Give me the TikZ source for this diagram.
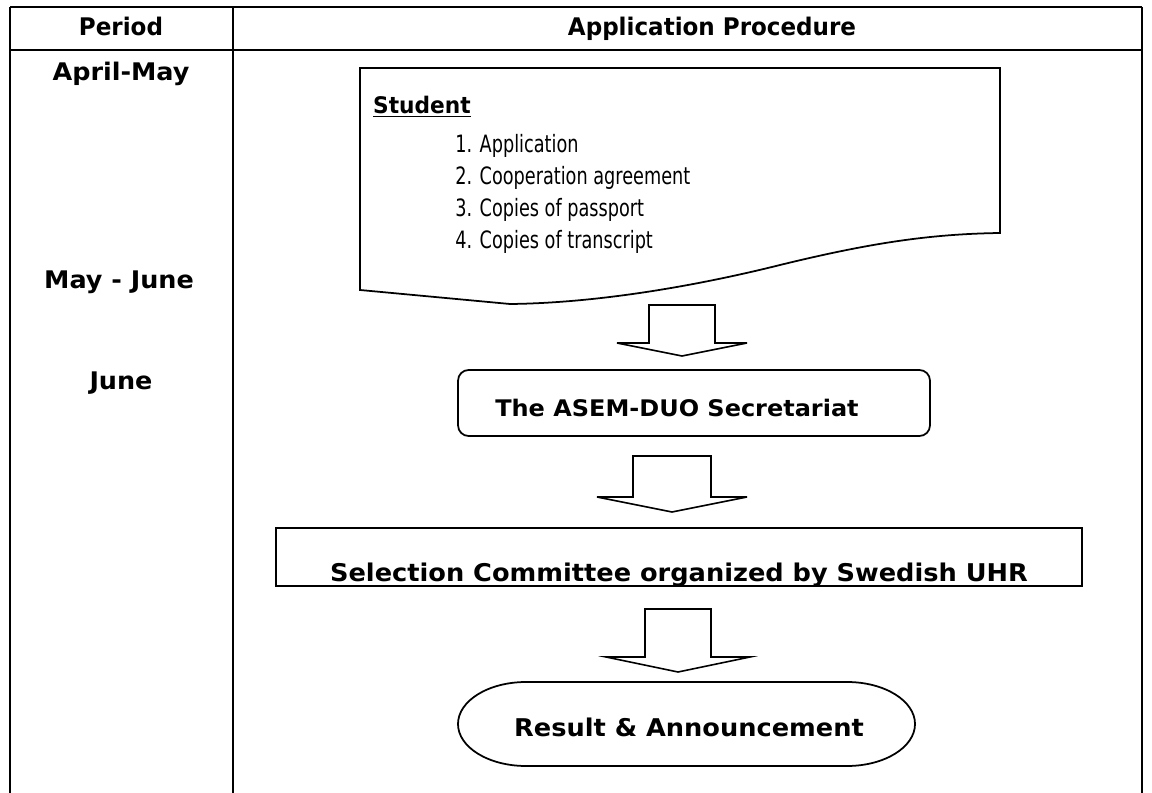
\documentclass[tikz,border=0pt]{standalone}
\usepackage{fontspec}
\setmainfont{DejaVu Sans}
\newfontfamily\headfont{DejaVu Sans}[FakeStretch=0.95]
\newfontfamily\listfont{DejaVu Sans}[FakeStretch=0.74]
\newfontfamily\widefont{DejaVu Sans}[FakeStretch=1.05]
\usetikzlibrary{positioning,calc}

\tikzset{
   tableline/.style={line width=1.3pt},
   procbox/.style={draw, line width=1pt},
   blockarrow/.style={draw, line width=0.9pt, line join=miter},
   headtext/.style={anchor=base, font=\headfont\fontsize{13.8pt}{16pt}\selectfont\bfseries},
   periodtext/.style={anchor=base, font=\widefont\fontsize{13.8pt}{16pt}\selectfont\bfseries},
   steptext/.style={anchor=base, font=\widefont\fontsize{13.9pt}{16pt}\selectfont\bfseries},
   listtext/.style={anchor=base west, inner sep=0pt, font=\listfont\fontsize{13.6pt}{15pt}\selectfont},
}

\begin{document}
\begin{tikzpicture}[x=0.02cm, y=-0.02cm]
   \useasboundingbox (0,0) rectangle (1152,793);

   % table
   \draw[tableline] (10,7) -- (1142,7);
   \draw[tableline] (10,50) -- (1142,50);
   \draw[tableline] (10,7) -- (10,793);
   \draw[tableline] (233,7) -- (233,793);
   \draw[tableline] (1142,7) -- (1142,793);

   \node[headtext] (hperiod) at (121,36) {Period};
   \node[headtext] (hproc) at (712,36) {Application Procedure};

   \node[periodtext] (p1) at (121,81) {April-May};
   \node[periodtext] (p2) at (119,289) {May - June};
   \node[periodtext] (p3) at (121,390) {June};

   % student document
   \draw[procbox] (360,68) -- (1000,68) -- (1000,233)
      .. controls (930,234) and (870,243) .. (780,265)
      .. controls (700,285) and (600,303) .. (510,304)
      -- (360,290) -- cycle;
   \node[anchor=base west, font=\headfont\fontsize{13pt}{16pt}\selectfont\bfseries] (stud) at (367,114) {\underline{Student}};
   \foreach \i/\t in {1/Application, 2/Cooperation agreement, 3/Copies of passport, 4/Copies of transcript}{
      \node[listtext] (doc\i) at (455,{153+31.7*(\i-1)}) {\i. \t};
   }

   % secretariat
   \node[procbox, rounded corners=6pt, minimum width=9.44cm, minimum height=1.32cm] (asem) at (694,403) {};
   \node[steptext, font=\widefont\fontsize{13pt}{16pt}\selectfont\bfseries] (asemtext) at (677,417) {The ASEM-DUO Secretariat};

   % selection committee (text cut by the box)
   \node[procbox, minimum width=16.12cm, minimum height=1.16cm] (sel) at (679,557) {};
   \begin{scope}
      \clip (sel.north west) rectangle (sel.south east);
      \node[steptext] (seltext) at (679,581) {Selection Committee organized by Swedish UHR};
   \end{scope}

   % result
   \node[minimum width=9.14cm, minimum height=1.68cm] (res) at (686,724) {};
   \draw[procbox] (526,682) -- (847,682) arc[start angle=-90, end angle=90, x radius=68, y radius=42]
      -- (526,766) arc[start angle=90, end angle=270, x radius=68, y radius=42] -- cycle;
   \node[steptext] (restext) at (689,736) {Result \& Announcement};

   % block arrows
   \foreach \cx/\sw/\hw/\yt/\ys/\yp in {682/33/65/305/343/356, 672/39/75/456/497/512, 678/33/72/609/657/672}{
      \draw[blockarrow] (\cx-\sw,\yt) -- (\cx+\sw,\yt) -- (\cx+\sw,\ys) -- (\cx+\hw,\ys)
         -- (\cx,\yp) -- (\cx-\hw,\ys) -- (\cx-\sw,\ys) -- cycle;
   }
\end{tikzpicture}
\end{document}
